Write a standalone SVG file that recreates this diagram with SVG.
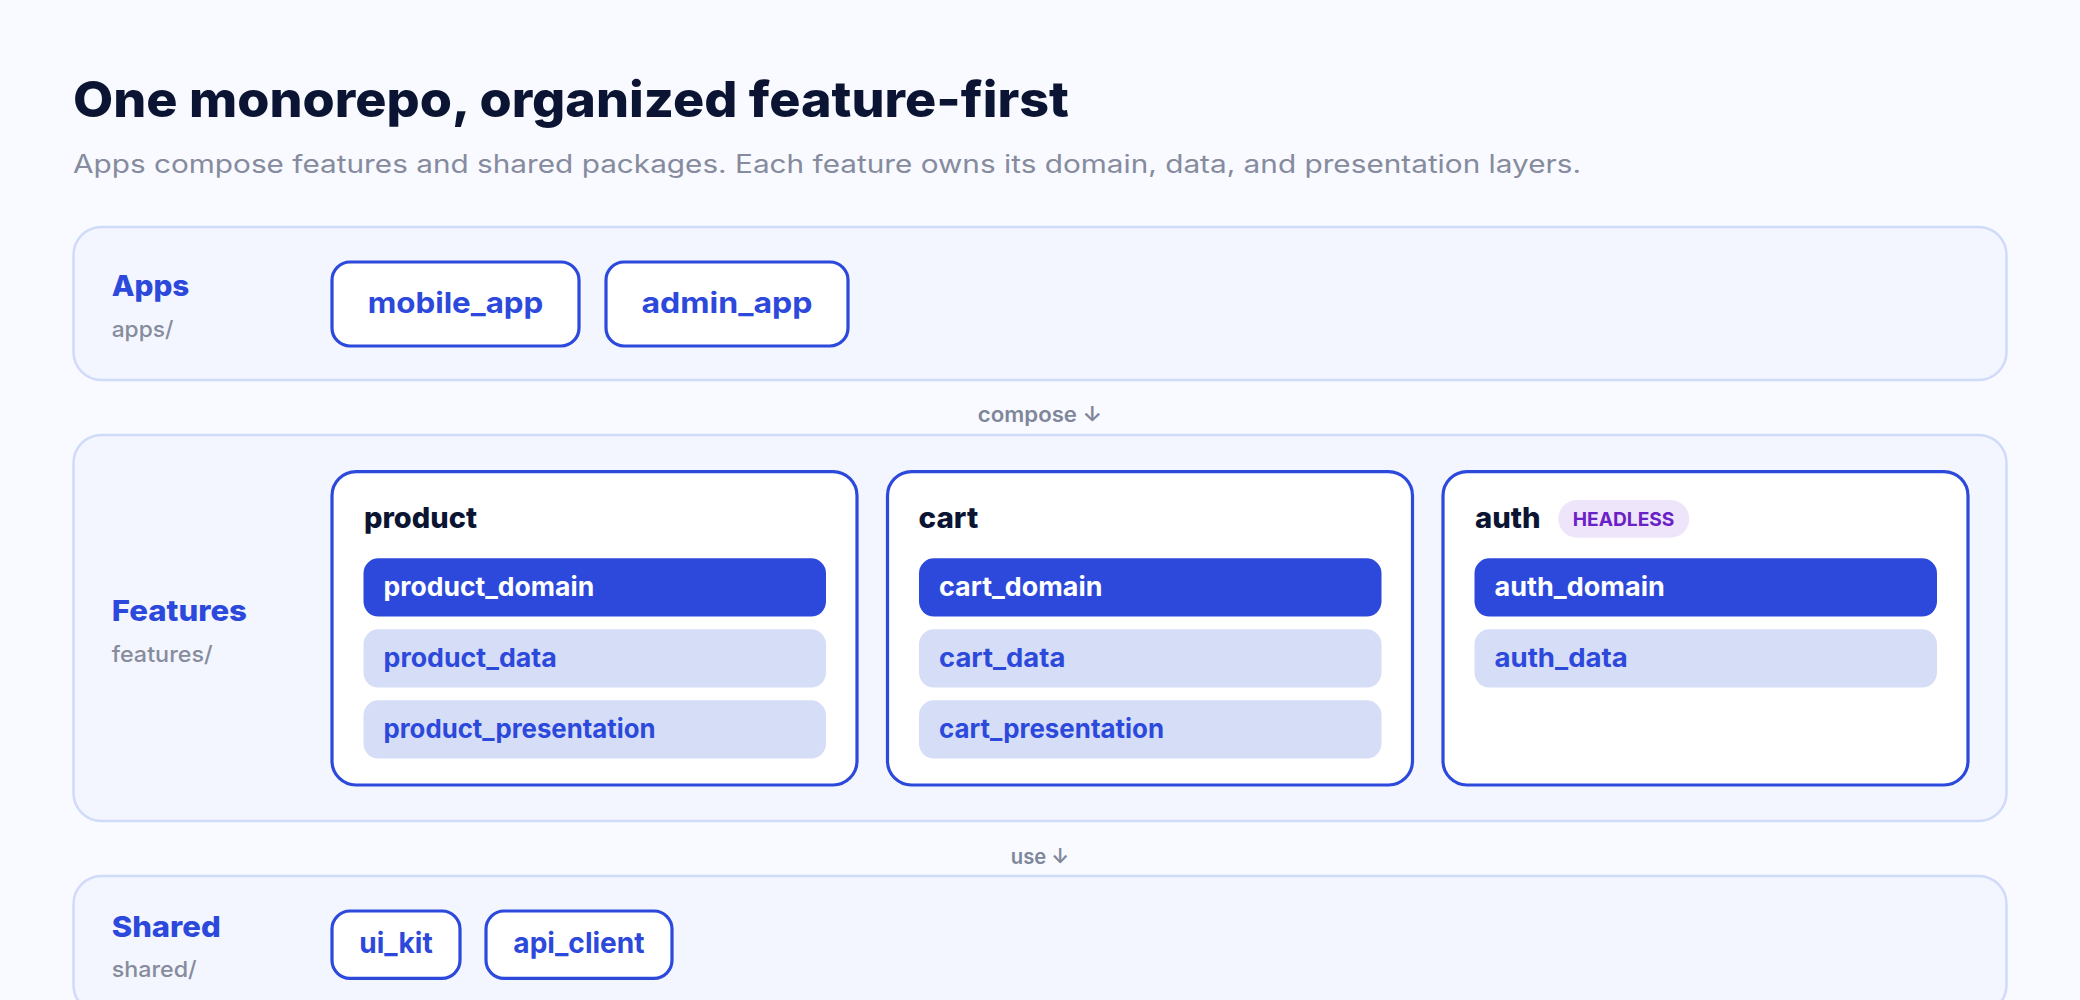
<svg xmlns="http://www.w3.org/2000/svg" width="2080" height="1000" viewBox="0 0 2080 1000">
<style>
text { font-family: Inter, "Noto Sans", "Liberation Sans", sans-serif; }
.grp { fill: #f3f6fe; stroke: #cfdbf9; stroke-width: 2.5; }
.node { fill: #ffffff; stroke: #2c49dc; stroke-width: 3.2; }
.pd { fill: #2c49dc; }
.pl { fill: #d6ddf7; }
.title { font-size: 50px; font-weight: 800; fill: #0b1533; }
.sub { font-size: 25px; font-weight: 400; fill: #868b9e; }
.glabel { font-size: 29px; font-weight: 800; fill: #2c49dc; }
.gpath { font-size: 22px; font-weight: 500; fill: #878c9d; }
.ntext { font-size: 29px; font-weight: 700; fill: #2c49dc; }
.fhead { font-size: 29px; font-weight: 800; fill: #0b1533; }
.ptd { font-size: 26px; font-weight: 700; fill: #ffffff; }
.ptl { font-size: 26px; font-weight: 700; fill: #2c49dc; }
.conn { font-size: 21px; font-weight: 600; fill: #80869a; }
.badge { fill: #eee5fb; }
.badget { font-size: 19px; font-weight: 700; fill: #6a22c6; }
</style>
<rect x="0" y="0" width="2080" height="1000" fill="#f8faff"/>

<text class="title" x="73" y="116.7" textLength="996" lengthAdjust="spacingAndGlyphs">One monorepo, organized feature-first</text>
<text class="sub" x="73" y="172.7" textLength="1508" lengthAdjust="spacingAndGlyphs">Apps compose features and shared packages. Each feature owns its domain, data, and presentation layers.</text>

<g id="apps-layer">
  <rect class="grp" x="73.5" y="227" width="1933" height="153" rx="28"/>
  <text class="glabel" x="111.7" y="296" textLength="77.7" lengthAdjust="spacingAndGlyphs">Apps</text>
  <text class="gpath" x="111.7" y="337" textLength="61.7" lengthAdjust="spacingAndGlyphs">apps/</text>
</g>
<g id="mobile_app">
  <rect class="node" x="332" y="262" width="247" height="84" rx="18"/>
  <text class="ntext" x="455.5" y="313.3" text-anchor="middle" textLength="175.7" lengthAdjust="spacingAndGlyphs">mobile_app</text>
</g>
<g id="admin_app">
  <rect class="node" x="606" y="262" width="242" height="84" rx="18"/>
  <text class="ntext" x="727" y="313.3" text-anchor="middle" textLength="171" lengthAdjust="spacingAndGlyphs">admin_app</text>
</g>

<g id="features-layer">
  <rect class="grp" x="73.5" y="435" width="1933" height="386" rx="28"/>
  <text class="glabel" x="111.7" y="620.5" textLength="135.3" lengthAdjust="spacingAndGlyphs">Features</text>
  <text class="gpath" x="111.7" y="661.5" textLength="101" lengthAdjust="spacingAndGlyphs">features/</text>
</g>
<g id="product">
  <rect class="node" x="332" y="471.7" width="525" height="313.3" rx="24"/>
  <text class="fhead" x="364" y="527.7" textLength="113" lengthAdjust="spacingAndGlyphs">product</text>
  <g id="product_domain">
    <rect class="pd" x="363.5" y="558.3" width="462.5" height="58.3" rx="15"/>
    <text class="ptd" x="383.5" y="596" textLength="210.7" lengthAdjust="spacingAndGlyphs">product_domain</text>
  </g>
  <g id="product_data">
    <rect class="pl" x="363.5" y="629.3" width="462.5" height="58.3" rx="15"/>
    <text class="ptl" x="383.5" y="667" textLength="173.3" lengthAdjust="spacingAndGlyphs">product_data</text>
  </g>
  <g id="product_presentation">
    <rect class="pl" x="363.5" y="700.3" width="462.5" height="58.3" rx="15"/>
    <text class="ptl" x="383.5" y="738" textLength="272" lengthAdjust="spacingAndGlyphs">product_presentation</text>
  </g>
</g>
<g id="cart">
  <rect class="node" x="887.5" y="471.7" width="525" height="313.3" rx="24"/>
  <text class="fhead" x="918.5" y="527.7" textLength="59.7" lengthAdjust="spacingAndGlyphs">cart</text>
  <g id="cart_domain">
    <rect class="pd" x="919" y="558.3" width="462.5" height="58.3" rx="15"/>
    <text class="ptd" x="939" y="596" textLength="163.4" lengthAdjust="spacingAndGlyphs">cart_domain</text>
  </g>
  <g id="cart_data">
    <rect class="pl" x="919" y="629.3" width="462.5" height="58.3" rx="15"/>
    <text class="ptl" x="939" y="667" textLength="126.3" lengthAdjust="spacingAndGlyphs">cart_data</text>
  </g>
  <g id="cart_presentation">
    <rect class="pl" x="919" y="700.3" width="462.5" height="58.3" rx="15"/>
    <text class="ptl" x="939" y="738" textLength="225" lengthAdjust="spacingAndGlyphs">cart_presentation</text>
  </g>
</g>
<g id="auth">
  <rect class="node" x="1443" y="471.7" width="525" height="313.3" rx="24"/>
  <text class="fhead" x="1475" y="527.7" textLength="65.7" lengthAdjust="spacingAndGlyphs">auth</text>
  <rect class="badge" x="1558.3" y="500" width="131" height="37.7" rx="18.85"/>
  <text class="badget" x="1572.7" y="526" textLength="101.7" lengthAdjust="spacingAndGlyphs">HEADLESS</text>
  <g id="auth_domain">
    <rect class="pd" x="1474.5" y="558.3" width="462.5" height="58.3" rx="15"/>
    <text class="ptd" x="1494.5" y="596" textLength="170.3" lengthAdjust="spacingAndGlyphs">auth_domain</text>
  </g>
  <g id="auth_data">
    <rect class="pl" x="1474.5" y="629.3" width="462.5" height="58.3" rx="15"/>
    <text class="ptl" x="1494.5" y="667" textLength="133.3" lengthAdjust="spacingAndGlyphs">auth_data</text>
  </g>
</g>

<g id="shared-layer">
  <rect class="grp" x="73.5" y="876" width="1933" height="137" rx="28"/>
  <text class="glabel" x="111.7" y="937.3" textLength="109" lengthAdjust="spacingAndGlyphs">Shared</text>
  <text class="gpath" x="111.7" y="977.3" textLength="85" lengthAdjust="spacingAndGlyphs">shared/</text>
</g>
<g id="ui_kit">
  <rect class="node" x="332" y="911" width="128" height="67.3" rx="18"/>
  <text class="ntext" x="396" y="953.3" text-anchor="middle" textLength="73.4" lengthAdjust="spacingAndGlyphs">ui_kit</text>
</g>
<g id="api_client">
  <rect class="node" x="486" y="911" width="186" height="67.3" rx="18"/>
  <text class="ntext" x="579" y="953.3" text-anchor="middle" textLength="131.3" lengthAdjust="spacingAndGlyphs">api_client</text>
</g>

<g id="connectors">
  <text class="conn" x="1040" y="422.3" text-anchor="middle" textLength="124.4" lengthAdjust="spacingAndGlyphs">compose ↓</text>
  <text class="conn" x="1040" y="863.5" text-anchor="middle" textLength="58.4" lengthAdjust="spacingAndGlyphs">use ↓</text>
</g>
</svg>
